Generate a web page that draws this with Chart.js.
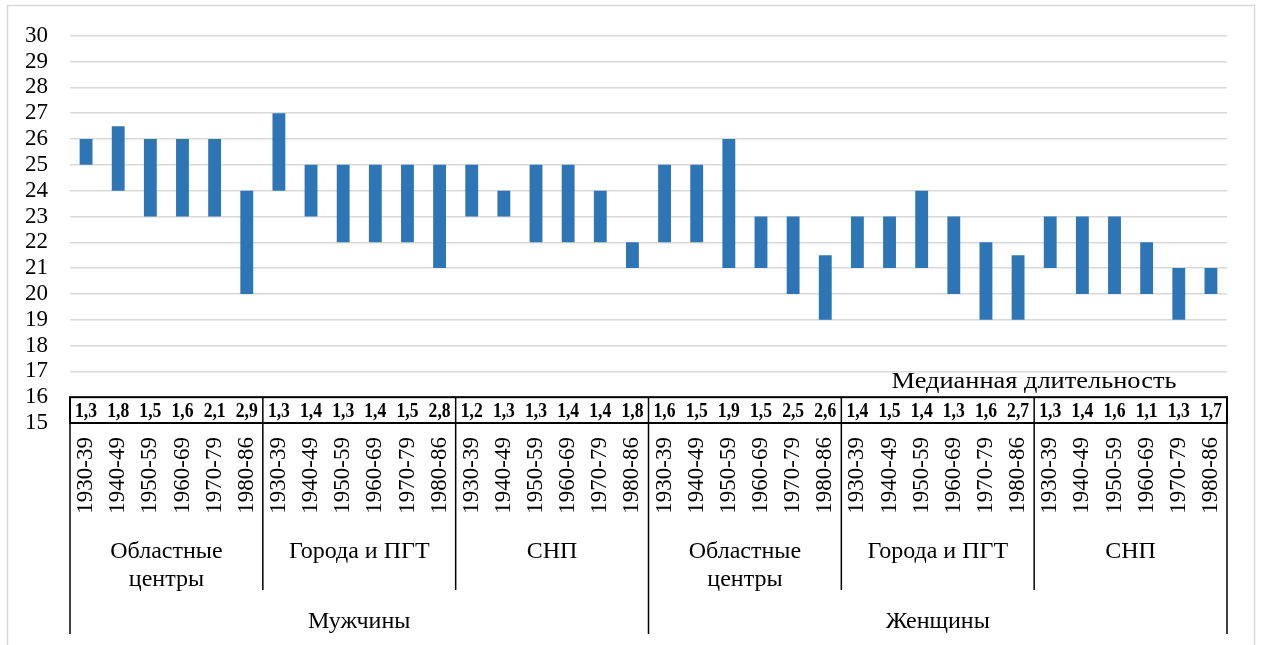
<!DOCTYPE html>
<html>
<head>
<meta charset="utf-8">
<script src="https://cdn.jsdelivr.net/npm/chart.js"></script>
<style>
  html, body { margin: 0; padding: 0; background: #fff; }
  #wrap { width: 1261px; height: 645px; position: relative; }
</style>
</head>
<body>
<div id="wrap"><canvas id="rangeChart"></canvas></div>
<script>
// данные
const years = ['1930-39', '1940-49', '1950-59', '1960-69', '1970-79', '1980-86'];
const settlements = [['Областные', 'центры'], ['Города и ПГТ'], ['СНП']];
const genders = ['Мужчины', 'Женщины'];

// нижняя и верхняя граница (возраст)
const lowValues = [
  25, 24, 23, 23, 23, 20,
  24, 23, 22, 22, 22, 21,
  23, 23, 22, 22, 22, 21,
  22, 22, 21, 21, 20, 19,
  21, 21, 21, 20, 19, 19,
  21, 20, 20, 20, 19, 20,
];
const highValues = [
  26, 26.5, 26, 26, 26, 24,
  27, 25, 25, 25, 25, 25,
  25, 24, 25, 25, 24, 22,
  25, 25, 26, 23, 23, 21.5,
  23, 23, 24, 23, 22, 21.5,
  23, 23, 23, 22, 21, 21,
];
// медианная длительность
const medianValues = [
  1.3, 1.8, 1.5, 1.6, 2.1, 2.9,
  1.3, 1.4, 1.3, 1.4, 1.5, 2.8,
  1.2, 1.3, 1.3, 1.4, 1.4, 1.8,
  1.6, 1.5, 1.9, 1.5, 2.5, 2.6,
  1.4, 1.5, 1.4, 1.3, 1.6, 2.7,
  1.3, 1.4, 1.6, 1.1, 1.3, 1.7,
];
const yTicks = [15, 16, 17, 18, 19, 20, 21, 22, 23, 24, 25, 26, 27, 28, 29, 30];

const serif = '"Liberation Serif", "Times New Roman", serif';

const labels = [];
genders.forEach(g => settlements.forEach(s => years.forEach(y => labels.push(g + ' ' + s.join(' ') + ' ' + y))));

// подписи категорий и таблица медиан
const categoryPlugin = {
  id: 'categoryPlugin',
  beforeDraw(chart) {
    const ctx = chart.ctx;
    ctx.save();
    ctx.strokeStyle = '#d9d9d9';
    ctx.lineWidth = 1.5;
    ctx.strokeRect(7.5, 5.5, 1247, 700);
    ctx.restore();
  },
  afterDraw(chart) {
    const ctx = chart.ctx;
    const x = chart.scales.x;
    const y = chart.scales.y;
    const left = chart.chartArea.left;
    const right = chart.chartArea.right;
    const step = (right - left) / labels.length;
    const tTop = y.getPixelForValue(16);
    const tBot = y.getPixelForValue(15);

    ctx.save();
    // таблица
    ctx.fillStyle = '#fff';
    ctx.fillRect(left, tTop, right - left, tBot - tTop);
    ctx.fillStyle = '#000';
    ctx.textAlign = 'center';
    ctx.textBaseline = 'middle';
    medianValues.forEach((v, i) => {
      const cx = x.getPixelForValue(i);
      ctx.save();
      ctx.translate(cx, (tTop + tBot) / 2 + 1);
      ctx.scale(0.8, 1);
      ctx.font = 'bold 22px ' + serif;
      ctx.fillText(v.toFixed(1).replace('.', ','), 0, 0);
      ctx.restore();
    });
    ctx.strokeStyle = '#000';
    ctx.lineWidth = 2;
    ctx.strokeRect(left, tTop, right - left, tBot - tTop);

    // годы
    ctx.font = '23px ' + serif;
    ctx.textAlign = 'right';
    labels.forEach((l, i) => {
      const cx = x.getPixelForValue(i);
      ctx.save();
      ctx.translate(cx, tBot + 14);
      ctx.rotate(-Math.PI / 2);
      ctx.fillText(years[i % years.length], 0, 0);
      ctx.restore();
    });

    // разделители групп
    ctx.lineWidth = 1.5;
    const groupSize = years.length;
    const genderSize = years.length * settlements.length;
    for (let k = 0; k <= labels.length; k += groupSize) {
      const lx = left + k * step;
      const bottom = (k % genderSize === 0) ? 634 : 590;
      ctx.beginPath();
      ctx.moveTo(lx, tTop);
      ctx.lineTo(lx, bottom);
      ctx.stroke();
    }

    // поселения
    ctx.textAlign = 'center';
    ctx.textBaseline = 'alphabetic';
    ctx.font = '24px ' + serif;
    for (let g = 0; g < genders.length * settlements.length; g++) {
      const cx = left + (g + 0.5) * groupSize * step;
      const lines = settlements[g % settlements.length];
      lines.forEach((t, j) => ctx.fillText(t, cx, 558 + j * 28));
    }
    // пол
    genders.forEach((t, g) => {
      const cx = left + (g + 0.5) * genderSize * step;
      ctx.fillText(t, cx, 628);
    });

    // заголовок таблицы
    ctx.save();
    ctx.translate(1034, 388);
    ctx.scale(1.1, 1);
    ctx.fillText('Медианная длительность', 0, 0);
    ctx.restore();
    ctx.restore();
  },
};

new Chart(document.getElementById('rangeChart').getContext('2d'), {
  type: 'bar',
  data: {
    labels: labels,
    datasets: [
      {
        label: 'Возраст',
        data: lowValues.map((v, i) => [v, highValues[i]]),
        backgroundColor: '#2e75b6',
        borderWidth: 0,
        categoryPercentage: 1,
        barPercentage: 0.4,
      },
    ],
  },
  options: {
    responsive: true,
    maintainAspectRatio: false,
    animation: false,
    layout: {
      padding: { top: 34, right: 34, bottom: 222, left: 0 },
    },
    plugins: {
      legend: { display: false },
      tooltip: { enabled: false },
    },
    scales: {
      x: { display: false },
      y: {
        min: yTicks[0],
        max: yTicks[yTicks.length - 1],
        afterFit(scale) { scale.width = 70; },
        afterBuildTicks(scale) { scale.ticks = yTicks.map(v => ({ value: v })); },
        border: { display: false },
        grid: { color: '#d9d9d9', lineWidth: 1.5, drawTicks: false },
        ticks: {
          autoSkip: false,
          padding: 22,
          color: '#000',
          font: { family: serif, size: 23 },
        },
      },
    },
  },
  plugins: [categoryPlugin],
});
</script>
</body>
</html>
